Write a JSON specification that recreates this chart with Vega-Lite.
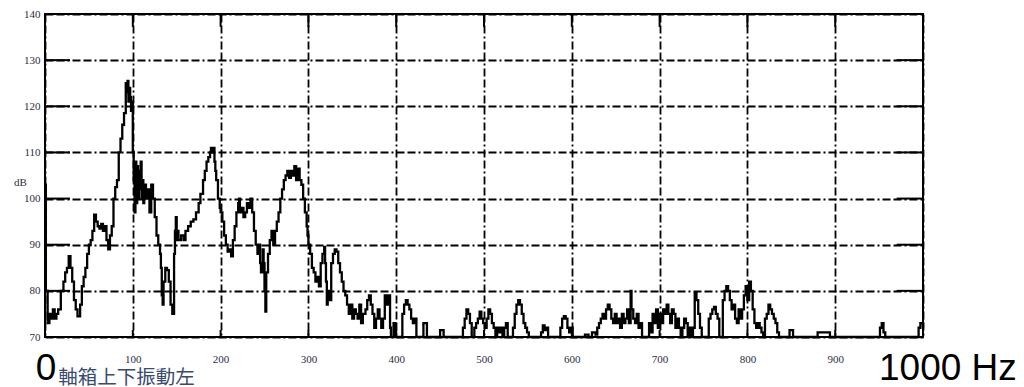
{
  "$schema": "https://vega.github.io/schema/vega-lite/v6.json",
  "autosize": {"type": "none"},
  "padding": {"left": 45, "top": 14, "right": 101, "bottom": 50},
  "width": 878,
  "height": 323,
  "background": "white",
  "config": {
    "view": {"stroke": "black", "strokeWidth": 2},
    "axis": {"labelFont": "Liberation Serif", "labelFontSize": 11, "labelColor": "#2d2d45", "domain": false, "ticks": false, "gridColor": "black", "gridOpacity": 1, "gridWidth": 1.8, "gridDash": [8, 3, 8, 3, 2, 3]}
  },
  "datasets": {
    "spec": [
      {"f":0,"db":103},{"f":1,"db":80},{"f":3,"db":73},{"f":5,"db":75},{"f":7,"db":74},{"f":9,"db":76},{"f":11,"db":74},{"f":13,"db":75},{"f":15,"db":76},{"f":18,"db":80},{"f":21,"db":82},{"f":23,"db":84},{"f":25,"db":85},{"f":27,"db":87.5},{"f":29,"db":85},{"f":31,"db":82},{"f":33,"db":78},{"f":35,"db":76},{"f":37,"db":74.5},{"f":40,"db":77},{"f":42,"db":81},{"f":44,"db":83},{"f":46,"db":85},{"f":48,"db":88},{"f":50,"db":90},{"f":52,"db":91},{"f":54,"db":93},{"f":56,"db":96.5},{"f":58,"db":95},{"f":60,"db":94},{"f":62,"db":93.5},{"f":64,"db":94.5},{"f":66,"db":93},{"f":68,"db":94},{"f":70,"db":91},{"f":72,"db":89},{"f":74,"db":92},{"f":76,"db":94},{"f":78,"db":100},{"f":80,"db":102.5},{"f":82,"db":104},{"f":84,"db":110},{"f":86,"db":113},{"f":88,"db":116},{"f":90,"db":118.5},{"f":92,"db":125},{"f":93,"db":123},{"f":94,"db":125.5},{"f":95,"db":121},{"f":96,"db":124},{"f":97,"db":122},{"f":98,"db":119},{"f":99,"db":121},{"f":100,"db":110},{"f":101,"db":104},{"f":102,"db":97},{"f":103,"db":108},{"f":104,"db":99},{"f":105,"db":107},{"f":106,"db":100},{"f":107,"db":106},{"f":108,"db":102},{"f":109,"db":108},{"f":110,"db":100},{"f":111,"db":104},{"f":112,"db":99},{"f":113,"db":103},{"f":115,"db":100},{"f":117,"db":102},{"f":119,"db":97},{"f":121,"db":103},{"f":123,"db":100},{"f":125,"db":96},{"f":127,"db":92},{"f":129,"db":90},{"f":131,"db":88},{"f":132,"db":85},{"f":133,"db":79},{"f":134,"db":77},{"f":135,"db":82},{"f":137,"db":85},{"f":139,"db":84.5},{"f":141,"db":82},{"f":143,"db":77},{"f":145,"db":75},{"f":147,"db":88},{"f":148,"db":93},{"f":149,"db":96},{"f":150,"db":91},{"f":151,"db":93},{"f":152,"db":91},{"f":155,"db":92},{"f":158,"db":91},{"f":160,"db":93},{"f":163,"db":94},{"f":166,"db":95},{"f":169,"db":95.5},{"f":172,"db":97},{"f":175,"db":99},{"f":177,"db":101},{"f":180,"db":104},{"f":182,"db":106},{"f":184,"db":108},{"f":186,"db":109},{"f":188,"db":110},{"f":189,"db":111},{"f":190,"db":110},{"f":191,"db":111},{"f":193,"db":108},{"f":194,"db":106},{"f":195,"db":104},{"f":197,"db":100},{"f":199,"db":98},{"f":200,"db":97},{"f":202,"db":95},{"f":204,"db":92},{"f":206,"db":90},{"f":208,"db":88.5},{"f":210,"db":89},{"f":212,"db":87.5},{"f":214,"db":91},{"f":216,"db":94},{"f":218,"db":97},{"f":220,"db":99},{"f":221,"db":100},{"f":222,"db":97},{"f":224,"db":98},{"f":226,"db":96},{"f":228,"db":97},{"f":230,"db":99},{"f":232,"db":98},{"f":234,"db":100},{"f":236,"db":97},{"f":238,"db":93},{"f":240,"db":90},{"f":242,"db":88},{"f":244,"db":90},{"f":245,"db":86},{"f":246,"db":84},{"f":248,"db":89},{"f":249,"db":86},{"f":250,"db":80},{"f":251,"db":75.5},{"f":252,"db":84},{"f":254,"db":88},{"f":256,"db":91},{"f":258,"db":93},{"f":260,"db":90},{"f":262,"db":93},{"f":264,"db":95},{"f":266,"db":97},{"f":268,"db":100},{"f":270,"db":102},{"f":272,"db":104},{"f":274,"db":105},{"f":276,"db":106},{"f":278,"db":104.5},{"f":280,"db":106},{"f":282,"db":105},{"f":284,"db":107},{"f":286,"db":104},{"f":288,"db":106.5},{"f":290,"db":104},{"f":292,"db":103},{"f":294,"db":100},{"f":296,"db":97},{"f":298,"db":94},{"f":299,"db":92},{"f":300,"db":90},{"f":302,"db":88},{"f":304,"db":85},{"f":306,"db":84},{"f":308,"db":82},{"f":310,"db":83},{"f":312,"db":81},{"f":314,"db":86},{"f":316,"db":88},{"f":318,"db":89.5},{"f":319,"db":86},{"f":320,"db":82},{"f":321,"db":77},{"f":322,"db":80},{"f":324,"db":78},{"f":326,"db":86},{"f":328,"db":88},{"f":330,"db":89},{"f":332,"db":88.5},{"f":334,"db":86},{"f":336,"db":84},{"f":338,"db":82},{"f":340,"db":80},{"f":342,"db":79},{"f":344,"db":77},{"f":346,"db":75},{"f":348,"db":77},{"f":350,"db":74},{"f":352,"db":76},{"f":354,"db":75},{"f":356,"db":74},{"f":358,"db":77},{"f":360,"db":73},{"f":362,"db":75},{"f":365,"db":76},{"f":367,"db":78},{"f":369,"db":79},{"f":371,"db":77},{"f":373,"db":75},{"f":375,"db":72},{"f":377,"db":74},{"f":379,"db":76},{"f":381,"db":74},{"f":383,"db":72},{"f":385,"db":74},{"f":387,"db":79},{"f":389,"db":77},{"f":391,"db":79},{"f":393,"db":72},{"f":394,"db":70},{"f":397,"db":73},{"f":399,"db":70},{"f":407,"db":75},{"f":409,"db":77},{"f":411,"db":78},{"f":413,"db":77},{"f":415,"db":76},{"f":417,"db":74},{"f":419,"db":73},{"f":421,"db":74},{"f":423,"db":70},{"f":431,"db":73},{"f":435,"db":70},{"f":450,"db":71.5},{"f":454,"db":70},{"f":476,"db":72},{"f":478,"db":74},{"f":480,"db":76},{"f":482,"db":75},{"f":484,"db":73},{"f":486,"db":70},{"f":489,"db":72},{"f":491,"db":73},{"f":493,"db":74},{"f":495,"db":75.5},{"f":497,"db":74},{"f":499,"db":73},{"f":501,"db":72},{"f":503,"db":74},{"f":505,"db":76},{"f":507,"db":75},{"f":509,"db":73},{"f":511,"db":72},{"f":513,"db":70},{"f":515,"db":72},{"f":517,"db":71},{"f":519,"db":72},{"f":521,"db":70},{"f":523,"db":72},{"f":525,"db":73},{"f":527,"db":70},{"f":533,"db":72},{"f":535,"db":75},{"f":537,"db":77},{"f":539,"db":78},{"f":541,"db":77},{"f":543,"db":75},{"f":545,"db":73},{"f":547,"db":72},{"f":549,"db":71},{"f":551,"db":70},{"f":565,"db":71},{"f":567,"db":72.5},{"f":569,"db":71.5},{"f":571,"db":72},{"f":573,"db":70},{"f":587,"db":72},{"f":589,"db":74},{"f":591,"db":74.5},{"f":593,"db":74},{"f":595,"db":72},{"f":597,"db":71},{"f":599,"db":72},{"f":601,"db":70},{"f":615,"db":70.5},{"f":619,"db":70},{"f":623,"db":71},{"f":627,"db":70.5},{"f":629,"db":72},{"f":631,"db":73},{"f":633,"db":74},{"f":635,"db":75},{"f":637,"db":74},{"f":639,"db":76},{"f":641,"db":77},{"f":643,"db":76},{"f":645,"db":74},{"f":647,"db":73},{"f":649,"db":75},{"f":651,"db":73},{"f":653,"db":74},{"f":655,"db":72},{"f":657,"db":75},{"f":659,"db":73},{"f":661,"db":74},{"f":663,"db":76},{"f":665,"db":73},{"f":667,"db":80},{"f":668,"db":76},{"f":670,"db":74},{"f":672,"db":73},{"f":674,"db":75},{"f":676,"db":72},{"f":678,"db":73},{"f":680,"db":70},{"f":686,"db":70},{"f":688,"db":73},{"f":690,"db":71},{"f":692,"db":75},{"f":694,"db":73},{"f":696,"db":76},{"f":698,"db":72},{"f":700,"db":75},{"f":702,"db":73},{"f":704,"db":76},{"f":706,"db":75},{"f":708,"db":77},{"f":710,"db":75},{"f":712,"db":73},{"f":714,"db":76},{"f":716,"db":75},{"f":718,"db":72},{"f":720,"db":74},{"f":722,"db":72},{"f":724,"db":70},{"f":726,"db":72},{"f":728,"db":74},{"f":730,"db":73},{"f":732,"db":70},{"f":734,"db":72},{"f":736,"db":70},{"f":738,"db":72},{"f":740,"db":79.5},{"f":742,"db":78},{"f":744,"db":75},{"f":746,"db":72},{"f":748,"db":70},{"f":756,"db":74},{"f":758,"db":75},{"f":760,"db":76},{"f":762,"db":76.5},{"f":764,"db":75},{"f":766,"db":74},{"f":768,"db":70},{"f":772,"db":78},{"f":774,"db":80},{"f":776,"db":81},{"f":778,"db":80},{"f":780,"db":78},{"f":782,"db":76},{"f":784,"db":77},{"f":786,"db":74},{"f":788,"db":73},{"f":790,"db":76},{"f":792,"db":74},{"f":794,"db":76},{"f":796,"db":79},{"f":798,"db":81},{"f":800,"db":78},{"f":802,"db":82},{"f":804,"db":80},{"f":806,"db":76},{"f":808,"db":73},{"f":810,"db":72},{"f":812,"db":73},{"f":814,"db":72},{"f":816,"db":71},{"f":818,"db":70},{"f":820,"db":74},{"f":822,"db":75},{"f":824,"db":77},{"f":826,"db":76},{"f":828,"db":75},{"f":830,"db":74},{"f":832,"db":73},{"f":834,"db":71},{"f":836,"db":70},{"f":848,"db":71.5},{"f":852,"db":70},{"f":880,"db":71},{"f":894,"db":70},{"f":951,"db":72},{"f":953,"db":73},{"f":955,"db":71},{"f":957,"db":70},{"f":995,"db":72},{"f":997,"db":73},{"f":1000,"db":72}
    ]
  },
  "layer": [
    {
      "data": {"name": "spec"},
      "mark": {"type": "line", "interpolate": "step-after", "color": "black", "strokeWidth": 2.3},
      "encoding": {
        "x": {"field": "f", "type": "quantitative", "title": null, "scale": {"domain": [0, 1000], "nice": false, "zero": false},
          "axis": {"orient": "bottom", "title": null, "values": [0,100,200,300,400,500,600,700,800,900,1000], "grid": true, "labelPadding": 16, "labelExpr": "datum.value == 0 || datum.value == 1000 ? '' : datum.label"}},
        "y": {"field": "db", "type": "quantitative", "title": "dB", "scale": {"domain": [70, 140], "nice": false, "zero": false},
          "axis": {"orient": "left", "values": [70,80,90,100,110,120,130,140], "grid": true, "labelPadding": 5, "title": "dB", "titleAngle": 0, "titleFont": "Liberation Serif", "titleFontSize": 11, "titleFontWeight": "normal", "titleColor": "#2d2d45", "titleX": -25, "titleY": 168, "titleAlign": "center", "titleBaseline": "middle"}}
      }
    },
    {
      "data": {"values": [{"v": 80}, {"v": 90}, {"v": 100}, {"v": 110}, {"v": 120}, {"v": 130}]},
      "mark": {"type": "rule", "color": "black", "strokeWidth": 2},
      "encoding": {
        "y": {"field": "v", "type": "quantitative"},
        "x": {"datum": 0},
        "x2": {"datum": 28.5}
      }
    },
    {
      "data": {"values": [{"v": 80}, {"v": 90}, {"v": 100}, {"v": 110}, {"v": 120}, {"v": 130}]},
      "mark": {"type": "rule", "color": "black", "strokeWidth": 2},
      "encoding": {
        "y": {"field": "v", "type": "quantitative"},
        "x": {"datum": 970},
        "x2": {"datum": 1000}
      }
    },
    {
      "data": {"values": [{"v": 100}, {"v": 200}, {"v": 300}, {"v": 400}, {"v": 500}, {"v": 600}, {"v": 700}, {"v": 800}, {"v": 900}]},
      "mark": {"type": "rule", "color": "black", "strokeWidth": 2},
      "encoding": {
        "x": {"field": "v", "type": "quantitative"},
        "y": {"datum": 140},
        "y2": {"datum": 137.2}
      }
    },
    {
      "data": {"values": [{"v": 100}, {"v": 200}, {"v": 300}, {"v": 400}, {"v": 500}, {"v": 600}, {"v": 700}, {"v": 800}, {"v": 900}]},
      "mark": {"type": "rule", "color": "black", "strokeWidth": 2},
      "encoding": {
        "x": {"field": "v", "type": "quantitative"},
        "y": {"datum": 70},
        "y2": {"datum": 71.5}
      }
    },
    {
      "data": {"values": [{"f": 0, "t": "0"}]},
      "mark": {"type": "text", "font": "Liberation Sans", "fontSize": 37, "color": "black", "baseline": "alphabetic", "align": "center", "dy": 43, "dx": 1},
      "encoding": {
        "x": {"field": "f", "type": "quantitative"},
        "y": {"datum": 70},
        "text": {"field": "t"}
      }
    },
    {
      "data": {"values": [{"f": 1000, "t": "1000 Hz"}]},
      "mark": {"type": "text", "font": "Liberation Sans", "fontSize": 37, "color": "black", "baseline": "alphabetic", "align": "left", "dy": 43, "dx": -44},
      "encoding": {
        "x": {"field": "f", "type": "quantitative"},
        "y": {"datum": 70},
        "text": {"field": "t"}
      }
    },
    {
      "data": {"values": [{"f": 15, "t": "軸箱上下振動左"}]},
      "mark": {"type": "text", "font": "Noto Sans CJK TC", "fontSize": 19.5, "color": "#3b4a6e", "baseline": "alphabetic", "align": "left", "dy": 47},
      "encoding": {
        "x": {"field": "f", "type": "quantitative"},
        "y": {"datum": 70},
        "text": {"field": "t"}
      }
    }
  ]
}
